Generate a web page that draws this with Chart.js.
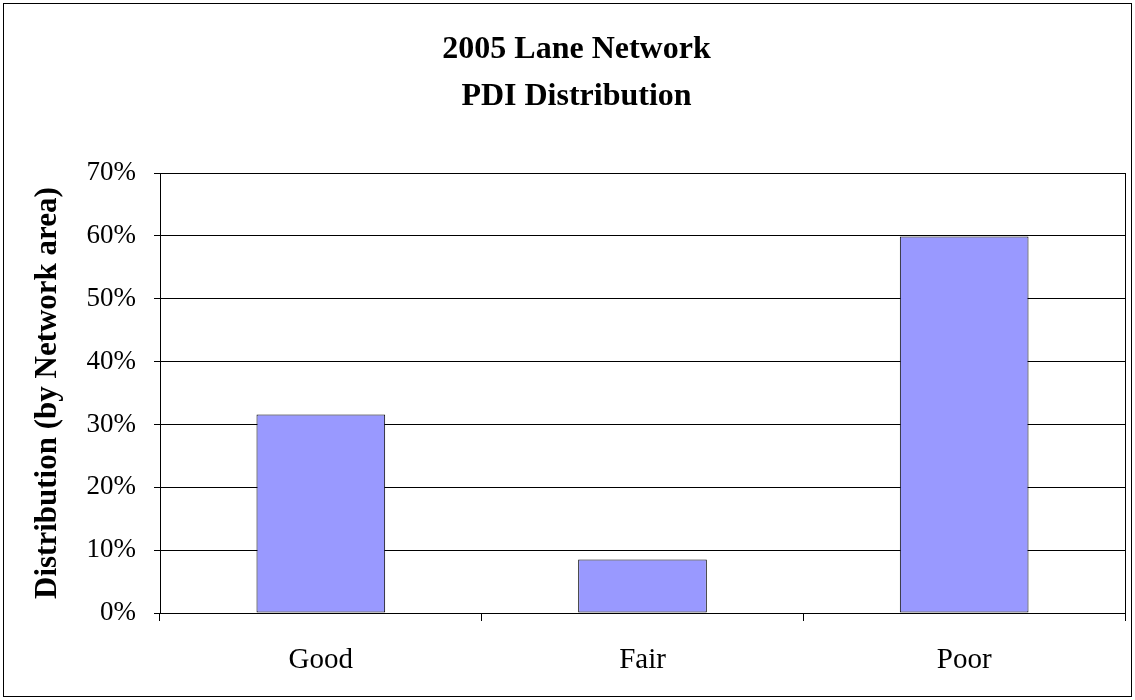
<!DOCTYPE html>
<html>
<head>
<meta charset="utf-8">
<script src="https://cdn.jsdelivr.net/npm/chart.js@4/dist/chart.umd.min.js"></script>
<style>
  html, body { margin: 0; padding: 0; background: #fff; }
  #wrap { width: 1135px; height: 700px; position: relative; }
</style>
</head>
<body>
<div id="wrap"><canvas id="pdiChart" width="1135" height="700"></canvas></div>
<script>
const categories = ['Good', 'Fair', 'Poor']
const distribution = [0.316, 0.085, 0.599]
const titleLines = ['2005 Lane Network', 'PDI Distribution']
const yAxisTitle = 'Distribution (by Network area)'

const serif = '"Liberation Serif", "Times New Roman", serif'

// frame round the whole picture and a box round the plot area
const framePlugin = {
  id: 'frame',
  afterDraw(chart) {
    const ctx = chart.ctx
    const a = chart.chartArea
    ctx.save()
    ctx.strokeStyle = '#000'
    ctx.lineWidth = 1
    ctx.strokeRect(Math.round(a.left) + 0.5, Math.round(a.top) + 0.5,
      Math.round(a.right - a.left), Math.round(a.bottom - a.top))
    ctx.strokeRect(3.5, 3.5, 1128, 693)
    ctx.restore()
  }
}

new Chart(document.getElementById('pdiChart'), {
  type: 'bar',
  data: {
    labels: categories,
    datasets: [{
      data: distribution,
      backgroundColor: '#9999FF',
      borderColor: '#000',
      borderWidth: 1,
      borderSkipped: false,
      barPercentage: 0.4,
      categoryPercentage: 1
    }]
  },
  options: {
    responsive: false,
    animation: false,
    layout: { padding: { left: 28, right: 10, top: 8, bottom: 10 } },
    plugins: {
      legend: { display: false },
      tooltip: { enabled: false },
      title: {
        display: true,
        text: titleLines,
        color: '#000',
        font: { family: serif, size: 32, weight: 'bold', lineHeight: 1.47 },
        padding: { top: 18, bottom: 53 }
      }
    },
    scales: {
      x: {
        grid: {
          offset: true,
          drawOnChartArea: false,
          drawTicks: true,
          tickLength: 8,
          color: '#000'
        },
        border: { color: '#000' },
        ticks: {
          color: '#000',
          padding: 22,
          font: { family: serif, size: 29 }
        },
        afterFit(scale) { scale.height = 77 }
      },
      y: {
        min: 0,
        max: 0.7,
        ticks: {
          stepSize: 0.1,
          color: '#000',
          padding: 18,
          font: { family: serif, size: 27 },
          callback: v => Math.round(v * 100) + '%'
        },
        grid: { color: '#000', tickLength: 6 },
        border: { color: '#000' },
        title: {
          display: true,
          text: yAxisTitle,
          color: '#000',
          font: { family: serif, size: 31, weight: 'bold' },
          padding: { top: 1, bottom: 0 }
        },
        afterFit(scale) { scale.width = 132 }
      }
    }
  },
  plugins: [framePlugin]
})
</script>
</body>
</html>
